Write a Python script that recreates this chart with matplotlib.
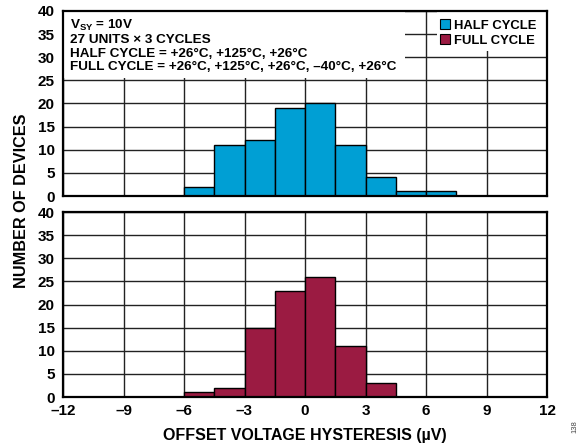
import matplotlib
matplotlib.use('Agg')
import matplotlib.pyplot as plt
from matplotlib.patches import Rectangle, Patch

plt.rcParams['font.family'] = ['Liberation Sans', 'DejaVu Sans']
plt.rcParams['font.weight'] = 'bold'
plt.rcParams['mathtext.fontset'] = 'custom'
plt.rcParams['mathtext.rm'] = 'Liberation Sans:bold'
plt.rcParams['mathtext.bf'] = 'Liberation Sans:bold'

# histogram data (offset voltage hysteresis, uV)
bin_left = [-6, -4.5, -3, -1.5, 0, 1.5, 3, 4.5, 6]
bin_width = 1.5
half_cycle = [2, 11, 12, 19, 20, 11, 4, 1, 1]
full_cycle = [1, 2, 15, 23, 26, 11, 3, 0, 0]

x_ticks = [-12, -9, -6, -3, 0, 3, 6, 9, 12]
x_labels = ['\u201312', '\u20139', '\u20136', '\u20133', '0', '3', '6', '9', '12']
y_ticks = [0, 5, 10, 15, 20, 25, 30, 35, 40]

blue = '#009fd4'
maroon = '#9b1b42'

fig = plt.figure(figsize=(5.82, 4.48), dpi=100)
ax1 = fig.add_axes([63 / 582, 1 - 196 / 448, 484 / 582, 185 / 448])
ax2 = fig.add_axes([63 / 582, 1 - 397 / 448, 484 / 582, 185 / 448])

for ax, vals, col in [(ax1, half_cycle, blue), (ax2, full_cycle, maroon)]:
    ax.bar(bin_left, vals, width=bin_width, align='edge', color=col,
           edgecolor='black', linewidth=1.0, zorder=3)
    ax.set_xlim(-12, 12)
    ax.set_ylim(0, 40)
    ax.set_xticks(x_ticks)
    ax.set_yticks(y_ticks)
    ax.grid(True, color='#222222', linewidth=1.0, zorder=1)
    ax.set_axisbelow(True)
    ax.tick_params(length=0, labelsize=11)
    ax.tick_params(axis='y', pad=6)
    ax.tick_params(axis='x', pad=5)
    for s in ax.spines.values():
        s.set_linewidth(1.6)
        s.set_zorder(5)

ax1.set_xticklabels([])
ax2.set_xticklabels(x_labels)

# white boxes behind notes and legend
ax1.add_patch(Rectangle((-12, 25.6), (405 - 63) / 484 * 24, 14.4,
                        facecolor='white', edgecolor='none', zorder=2))
ax1.add_patch(Rectangle(((437 - 63) / 484 * 24 - 12, 31.3),
                        (547 - 437) / 484 * 24, 8.7,
                        facecolor='white', edgecolor='none', zorder=2))
notes = ['$\\mathbf{V_{SY}}$ = 10V',
         '27 UNITS \u00d7 3 CYCLES',
         'HALF CYCLE = +26\u00b0C, +125\u00b0C, +26\u00b0C',
         'FULL CYCLE = +26\u00b0C, +125\u00b0C, +26\u00b0C, \u201340\u00b0C, +26\u00b0C']
note_y = [36.9, 33.8, 30.8, 27.9]
for line, yy in zip(notes, note_y):
    ax1.text(-11.65, yy, line, fontsize=9.7, fontweight='bold',
             va='center', ha='left', zorder=4)

handles = [Patch(facecolor=blue, edgecolor='black', linewidth=0.8),
           Patch(facecolor=maroon, edgecolor='black', linewidth=0.8)]
leg = ax1.legend(handles, ['HALF CYCLE', 'FULL CYCLE'], loc='upper left',
                 bbox_to_anchor=((440 - 63) / 484, 1 - 8 / 185),
                 fontsize=9.4, frameon=False, borderaxespad=0,
                 handlelength=0.8, handleheight=0.8, handletextpad=0.3,
                 labelspacing=0.2, borderpad=0)
leg.set_zorder(6)

fig.text(22 / 582, 1 - 201 / 448, 'NUMBER OF DEVICES', rotation=90,
         ha='center', va='center', fontsize=11.7, fontweight='bold')
fig.text(305 / 582, 1 - 435 / 448, 'OFFSET VOLTAGE HYSTERESIS (\u00b5V)',
         ha='center', va='center', fontsize=11.5, fontweight='bold')
fig.text(575 / 582, 1 - 427 / 448, '138', rotation=90, ha='center',
         va='center', fontsize=5.5, fontweight='normal', color='#444444')

fig.savefig('out.png', dpi=100)
